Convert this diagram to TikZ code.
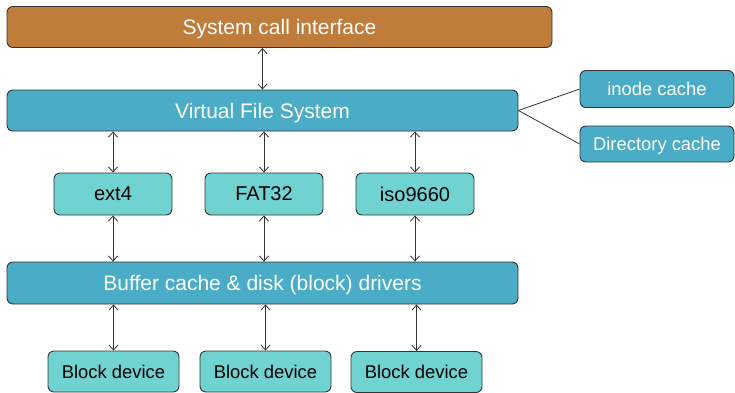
\documentclass[tikz,border=0pt]{standalone}
\usepackage{fontspec}
\setmainfont{Liberation Sans}
\usetikzlibrary{arrows.meta}
\definecolor{sysorange}{HTML}{C07C3B}
\definecolor{vfsblue}{HTML}{4AACC6}
\definecolor{fsteal}{HTML}{70D3D1}
\definecolor{edgegray}{HTML}{333333}
\tikzset{
  layer/.style={
    draw=edgegray, line width=0.9pt, rounded corners=6pt,
    fill=vfsblue, text=white, minimum height=41pt, text depth=0pt,
    font=\fontsize{21}{25}\selectfont
  },
  fsbox/.style={
    draw=edgegray, line width=0.9pt, rounded corners=6pt,
    fill=fsteal, text=black, minimum width=118pt, minimum height=42pt,
    text depth=0pt, font=\fontsize{20}{24}\selectfont
  },
  devbox/.style={
    fsbox, minimum width=131pt, minimum height=41pt,
    font=\fontsize{18.4}{22}\selectfont
  },
  cachebox/.style={
    fsbox, fill=vfsblue, text=white, minimum width=154pt, minimum height=37pt,
    font=\fontsize{18.4}{22}\selectfont
  },
  link/.style={draw=edgegray, line width=0.8pt},
  both/.style={link, {Straight Barb[length=5pt,width=9pt]}-{Straight Barb[length=5pt,width=9pt]}}
}
\begin{document}
\begin{tikzpicture}[x=1pt,y=-1pt]
  \useasboundingbox (0,0) rectangle (735,392);

  % layers
  \node[layer, fill=sysorange, minimum width=545pt] (sys) at (279.5,27) {System call interface};
  \node[layer, minimum width=511pt] (vfs) at (262.5,110.5) {Virtual File System};
  \node[layer, minimum width=511pt, minimum height=42pt] (buf) at (262.5,283) {Buffer cache \& disk (block) drivers};

  % caches
  \node[cachebox] (inode) at (657,89) {inode cache};
  \node[cachebox, minimum height=36pt] (dcache) at (657,144) {Directory cache};
  \draw[link] (vfs.east) -- (inode.west);
  \draw[link] (vfs.east) -- (dcache.west);

  % file systems
  \node[fsbox] (ext) at (113,194) {ext4};
  \node[fsbox] (fat) at (264,194) {FAT32};
  \node[fsbox] (iso) at (415,194) {iso9660};

  % devices
  \node[devbox] (blkA) at (113.5,371.5) {Block device};
  \node[devbox] (blkB) at (265.5,371.5) {Block device};
  \node[devbox] (blkC) at (416.5,372) {Block device};

  % arrows
  \draw[both] (vfs.north) -- (vfs.north |- sys.south);
  \foreach \n in {ext,fat,iso} {
    \draw[both] (\n.north) -- (\n.north |- vfs.south);
    \draw[both] (\n.south) -- (\n.south |- buf.north);
  }
  \foreach \n in {blkA,blkB,blkC}
    \draw[both] (\n.north) -- (\n.north |- buf.south);
\end{tikzpicture}
\end{document}
